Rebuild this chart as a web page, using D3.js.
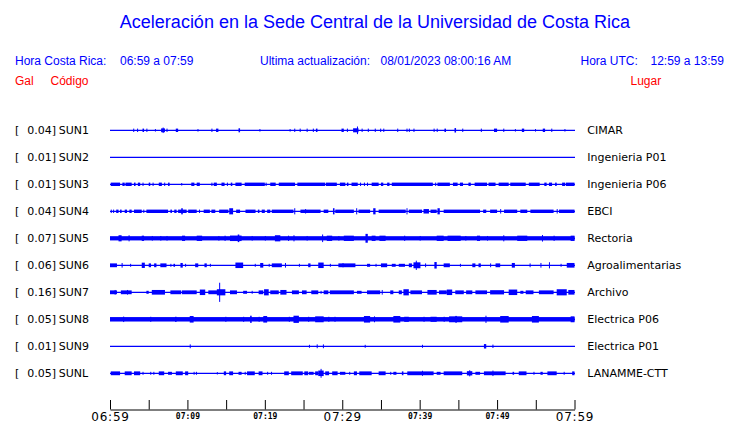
<!DOCTYPE html>
<html>
<head>
<meta charset="utf-8">
<script src="https://cdn.jsdelivr.net/npm/d3@7"></script>
<style>
  html, body { margin: 0; padding: 0; background: #fff; }
  svg { display: block; }
</style>
</head>
<body>
<svg id="chart" width="740" height="423"></svg>
<script>
// ---------------- DATA ----------------
const codes = ["SUN1","SUN2","SUN3","SUN4","SUN5","SUN6","SUN7","SUN8","SUN9","SUNL"];
const galMax = ["0.04","0.01","0.01","0.04","0.07","0.06","0.16","0.05","0.01","0.05"];
const places = ["CIMAR","Ingenieria P01","Ingenieria P06","EBCI","Rectoria","Agroalimentarias","Archivo","Electrica P06","Electrica P01","LANAMME-CTT"];
const tickMinutes = [0,5,10,15,20,25,30,35,40,45,50,55,60];
const labelMinutes = [0,10,20,30,40,50,60];
const bigLabelMinutes = [0,30,60];

// events per trace: [startMinute, endMinute, relative amplitude] (minutes after 06:59)
const sun1 = [[3.0,3.0,1],[3.5,3.5,1],[4.2,4.4,1],[4.7,4.7,1],[5.8,5.8,0.6],[6.6,7.1,1.2],[6.8,6.9,2],[7.3,7.3,1],[8.5,8.8,1],[11.3,11.3,0.6],[13.1,13.1,1],[13.7,14.0,1],[16.6,16.8,1.3],[19.3,19.3,0.6],[23.2,23.2,0.6],[23.8,23.8,1],[24.5,24.5,1],[25.4,25.4,1],[26.2,26.2,1],[26.6,26.8,1],[29.9,30.2,1],[30.6,30.6,1],[31.4,32.1,1.3],[31.9,32.0,3],[32.5,32.5,1],[33.3,33.3,1],[34.2,34.2,1],[34.9,34.9,1],[35.3,35.3,1],[37.1,37.1,1],[38.3,38.3,1],[38.6,38.6,1],[39.2,39.2,1],[41.8,41.8,1],[42.2,42.2,1],[43.2,43.4,1],[44.5,44.7,1.5],[45.5,45.5,1],[47.9,47.9,1],[49.6,50.0,1],[50.8,50.8,1],[52.3,52.3,0.6],[53.2,53.5,1],[54.9,54.9,0.6],[55.9,56.2,1],[57.0,57.0,1],[58.7,58.7,0.6]];
const sun2 = [];
const sun3 = [[0.1,1.3,1],[1.6,1.9,1],[2.0,2.8,1],[3.1,3.3,1],[3.6,3.9,1],[4.2,4.2,1],[5.0,5.2,1],[5.5,5.5,1],[6.3,6.7,1],[7.0,7.0,1],[7.5,7.7,1],[9.2,9.2,0.6],[10.5,10.9,1],[11.2,11.6,1],[13.1,13.1,1],[13.4,13.8,1],[14.4,14.8,1],[15.1,15.1,1],[15.6,15.8,1],[16.2,17.0,1],[17.4,20.0,1],[20.1,20.1,1],[20.7,21.4,1],[21.8,23.9,1],[24.2,27.8,1],[27.9,29.3,1],[29.7,30.4,1],[30.6,30.8,1],[31.2,32.0,1],[32.3,32.3,1],[32.8,32.8,1],[33.2,33.2,1],[33.8,34.7,1],[35.0,35.3,1],[35.8,36.1,1],[36.4,41.7,1],[42.0,42.0,1],[42.3,43.9,1],[44.3,44.9,1],[45.2,45.6,1],[46.3,46.6,1],[47.1,48.7,1],[48.9,49.8,1],[50.2,51.5,1],[51.7,53.7,1],[54.1,55.5,1],[56.1,56.4,1],[56.7,57.1,1],[57.5,57.7,1],[58.4,58.8,1],[58.9,60,1]];
const sun4 = [[0.1,0.1,1],[0.4,0.4,1],[0.8,1.1,1],[1.3,1.5,1],[1.9,2.2,1],[2.5,2.8,1],[3.1,4.1,1],[4.3,4.3,1],[4.7,7.5,1],[7.8,8.0,1],[8.3,8.6,1],[8.8,9.9,1],[9.2,9.4,2.3],[10.1,11.2,1],[11.5,11.5,1],[12.1,12.9,1],[13.1,13.6,1],[14.1,15.3,1],[15.4,15.9,2.3],[16.3,16.8,1],[17.5,18.8,1],[19.1,19.3,1],[19.6,20.0,1],[20.3,20.7,1],[20.9,23.7,1],[23.8,23.8,2.3],[24.6,27.2,1],[25.2,25.3,1.5],[27.6,28.2,1],[28.8,29.0,2.3],[29.1,31.5,1],[31.8,31.8,2.3],[32.1,33.6,1],[34.0,34.3,2.3],[34.7,38.2,1],[38.3,38.3,2.3],[38.6,40.3,1],[40.5,41.2,1.5],[41.4,42.2,1],[42.3,42.6,2.3],[43.1,47.8,1],[48.2,48.6,1],[49.1,50.0,1],[50.4,50.4,1.5],[50.9,52.6,1],[53.0,53.9,1],[54.3,57.3,1],[57.7,57.7,1.5],[58.0,60,1]];
const sun5 = [[0,60,1.4],[1.1,1.5,2.3],[2.4,2.5,2.3],[4.1,4.4,1.9],[5.4,5.4,1.6],[6.5,6.5,1.6],[7.3,7.3,1.6],[9.3,9.7,1.9],[11.2,11.9,1.9],[14.0,14.0,1.6],[14.8,14.8,1.9],[15.5,17.0,2.0],[16.5,16.7,3.0],[18.3,18.3,1.6],[20.0,20.0,1.6],[21.3,22.0,2.3],[23.0,23.0,1.9],[23.7,23.7,2.3],[25.4,25.4,1.6],[27.4,27.4,3.0],[28.0,28.7,1.9],[29.5,29.5,1.6],[30.2,31.5,1.9],[33.0,33.3,3.6],[33.8,34.3,1.9],[34.8,35.6,1.9],[38.0,38.0,1.9],[40.0,40.0,1.6],[42.2,43.1,1.9],[43.6,45.3,1.9],[45.9,45.9,1.6],[47.4,47.8,1.9],[48.7,48.7,1.6],[50.8,50.8,2.3],[52.6,53.9,1.9],[55.8,55.8,2.5],[57.3,57.3,1.9],[59.5,60,1.9]];
const sun6 = [[0,0.9,1.2],[1.5,1.5,1.6],[2.6,2.6,0.8],[4.1,4.5,1.9],[5.0,5.3,1.2],[5.7,6.0,1.2],[6.5,7.3,1.2],[7.8,7.8,0.8],[8.2,8.4,0.8],[9.1,9.4,1.6],[9.7,9.7,0.8],[11.0,11.4,1.2],[12.2,12.5,1.2],[12.9,12.9,0.8],[16.2,17.2,2.0],[18.7,18.7,0.8],[19.4,19.8,1.6],[20.5,20.5,0.8],[20.9,22.2,1.2],[22.6,22.6,1.6],[24.4,24.4,0.8],[25.6,25.9,1.2],[26.9,27.6,2.0],[28.4,28.4,0.8],[29.5,30.2,1.2],[30.0,31.7,1.2],[33.2,33.6,0.8],[34.3,34.3,0.8],[35.0,35.8,1.2],[36.4,36.9,0.8],[37.3,38.1,0.8],[38.6,39.0,1.2],[39.2,40.1,2.2],[39.5,39.6,3.8],[40.7,40.7,1.2],[41.9,42.2,2.5],[43.1,43.9,1.2],[45.2,45.2,0.8],[46.8,47.2,1.2],[47.6,47.9,1.2],[49.1,49.1,1.2],[49.8,50.4,1.2],[51.9,52.3,1.6],[54.2,54.2,1.2],[55.6,55.6,1.6],[56.7,56.7,2.3],[58.2,58.2,0.8],[59.0,60,1.6]];
const sun7 = [[0,0.9,1.2],[0.6,0.6,1.6],[1.4,2.8,1.2],[2.2,2.3,1.6],[4.7,5.0,0.8],[5.4,7.1,1.6],[7.8,9.2,1.2],[9.3,11.2,1.2],[11.6,12.3,2.0],[12.7,14.0,1.2],[13.8,14.9,2.3],[14.1,14.2,8.5],[15.5,16.4,1.2],[17.2,17.7,0.8],[18.3,18.3,0.8],[19.2,19.8,1.2],[19.9,20.5,2.3],[20.7,21.8,1.2],[22.0,22.8,1.6],[23.5,24.4,1.2],[24.8,25.4,1.2],[26.0,26.9,1.2],[27.2,27.2,0.8],[27.6,28.2,1.2],[28.4,31.5,1.2],[31.9,32.5,0.8],[33.2,34.9,1.2],[35.1,35.1,1.6],[36.2,36.6,1.2],[37.3,37.7,1.2],[37.9,38.6,2.3],[38.8,40.3,1.2],[41.0,42.2,1.6],[42.5,43.5,1.2],[43.5,44.2,2.0],[44.6,45.7,1.2],[46.0,46.8,1.2],[47.2,48.7,1.2],[49.1,50.9,1.4],[51.5,52.6,2.0],[53.0,53.4,0.8],[53.7,54.7,1.2],[55.4,57.3,1.2],[57.7,59.0,2.3],[59.2,60,1.6]];
const sun8 = [[0,60,1.5],[1.7,1.7,2.0],[5.2,5.2,1.8],[8.4,8.6,1.8],[10.3,10.8,2.5],[14.9,14.9,1.8],[17.2,17.2,1.8],[18.1,18.3,2.8],[19.2,19.2,1.8],[19.8,20.3,2.5],[23.1,23.1,1.8],[23.7,24.4,2.8],[25.6,25.6,1.8],[26.5,27.6,2.2],[28.2,28.2,1.8],[29.0,29.0,1.8],[32.8,33.6,2.5],[34.1,34.1,2.2],[36.6,37.5,2.5],[38.0,38.6,1.8],[40.5,40.5,1.8],[41.4,42.2,1.8],[43.1,43.1,1.8],[43.8,45.5,2.2],[44.6,44.8,2.6],[48.5,48.5,2.8],[50.4,51.5,2.5],[54.5,55.4,2.5],[59.5,60,2.2]];
const sun9 = [[10.3,10.3,1.2],[25.7,25.7,0.8],[26.7,26.8,1.2],[27.5,27.6,1.2],[32.9,32.9,0.8],[40.3,40.3,0.8],[48.3,48.6,1.5],[49.4,49.4,1.0]];
const sunl = [[0.1,1.3,1.2],[1.9,2.8,1.2],[3.1,3.9,1.2],[4.2,4.2,0.8],[5.2,5.2,0.8],[5.6,5.6,0.8],[6.3,7.0,1.2],[7.5,8.0,0.8],[8.5,9.4,1.2],[9.7,10.1,1.2],[10.8,10.8,0.8],[11.1,11.1,0.8],[13.8,13.8,0.5],[14.7,15.0,1.2],[15.4,15.9,1.2],[16.6,17.0,0.8],[17.4,17.4,0.8],[17.7,18.7,1.2],[19.2,19.7,1.2],[20.3,20.3,0.8],[20.8,20.8,0.8],[22.5,23.1,1.2],[23.4,24.9,1.2],[25.1,25.6,1.2],[25.7,26.3,0.8],[26.5,26.9,1.2],[26.9,27.6,2.0],[27.2,27.3,3.6],[27.8,28.3,1.2],[28.7,29.4,1.2],[29.7,30.4,0.8],[30.9,30.9,0.8],[31.5,31.9,1.2],[32.2,33.8,1.2],[34.7,35.6,1.2],[36.2,36.2,0.8],[36.6,37.0,0.8],[37.7,37.9,1.2],[38.4,41.8,1.2],[40.3,40.3,1.8],[42.2,42.7,0.8],[43.1,45.5,1.2],[46.1,46.8,1.4],[46.4,46.4,2.3],[47.2,47.8,0.8],[48.3,51.1,1.2],[49.4,49.4,2.0],[52.0,52.2,0.8],[52.8,53.8,1.2],[54.7,54.7,0.8],[55.6,55.9,0.8],[56.5,57.7,1.2],[58.6,58.6,0.8],[59.7,60,1.2]];
const traces = [sun1, sun2, sun3, sun4, sun5, sun6, sun7, sun8, sun9, sunl];

// ---------------- DRAWING ----------------
const svg = d3.select("#chart");
const BLUE = "#0000ff", RED = "#ff0000";
const t0 = new Date(2023, 7, 1, 6, 59, 0);
const t1 = new Date(2023, 7, 1, 7, 59, 0);
const atMin = m => new Date(t0.getTime() + m * 60000);

const x = d3.scaleTime().domain([t0, t1]).range([110, 574.5]);
const y = d3.scaleBand().domain(codes).range([116.8, 386.8]);
const amp = d3.scaleLinear().domain([0, 1]).range([0, 1.05]);

const sans = "'Liberation Sans', Arial, Helvetica, sans-serif";
const dv = "'DejaVu Sans', Verdana, sans-serif";

// title + header
svg.append("text").attr("x", 375).attr("y", 28.3).attr("text-anchor", "middle")
  .attr("font-family", sans).attr("font-size", 18).attr("fill", BLUE)
  .text("Aceleración en la Sede Central de la Universidad de Costa Rica");

const header = [
  ["Hora Costa Rica:", 15, 65, BLUE],
  ["06:59 a 07:59", 120, 65, BLUE],
  ["Ultima actualización:", 260, 65, BLUE],
  ["08/01/2023 08:00:16 AM", 380.5, 65, BLUE],
  ["Hora UTC:", 580.5, 65, BLUE],
  ["12:59 a 13:59", 650.5, 65, BLUE],
  ["Gal", 15, 84.5, RED],
  ["Código", 50.5, 84.5, RED],
  ["Lugar", 630.5, 84.5, RED]
];
svg.selectAll("text.hdr").data(header).enter().append("text").attr("class", "hdr")
  .attr("x", d => d[1]).attr("y", d => d[2]).attr("fill", d => d[3])
  .attr("font-family", sans).attr("font-size", 12).text(d => d[0]);

// rows
const rows = svg.selectAll("g.row").data(codes).enter().append("g").attr("class", "row")
  .attr("transform", d => `translate(0,${y(d) + y.bandwidth() / 2})`);

rows.append("text").attr("x", 15).attr("y", 4).attr("font-family", dv).attr("font-size", 11)
  .attr("fill", "#000").text("[");
rows.append("text").attr("x", 27.3).attr("y", 4).attr("font-family", dv).attr("font-size", 11)
  .attr("fill", "#000").text((d, i) => galMax[i] + "]");
rows.append("text").attr("x", 58.8).attr("y", 4).attr("font-family", dv).attr("font-size", 11)
  .attr("fill", "#000").text(d => d);
rows.append("text").attr("x", 587.3).attr("y", 4).attr("font-family", dv).attr("font-size", 11)
  .attr("fill", "#000").text((d, i) => places[i]);

rows.append("line").attr("x1", x(t0)).attr("x2", x(t1) + 0.5).attr("y1", 0).attr("y2", 0)
  .attr("stroke", BLUE).attr("stroke-width", 1.3);

rows.each(function (d, i) {
  d3.select(this).selectAll("rect").data(traces[i]).enter().append("rect")
    .attr("x", e => x(atMin(e[0])))
    .attr("width", e => Math.max(1, x(atMin(e[1])) - x(atMin(e[0]))))
    .attr("y", e => -amp(e[2]) - 0.65)
    .attr("height", e => 2 * amp(e[2]) + 1.3)
    .attr("fill", BLUE);
});

// axis
const axis = d3.axisBottom(x)
  .tickValues(tickMinutes.map(atMin))
  .tickSizeInner(-9.5).tickSizeOuter(0).tickPadding(0)
  .tickFormat(d => {
    const m = Math.round((d - t0) / 60000);
    return labelMinutes.includes(m) ? d3.timeFormat("%H:%M")(d) : "";
  });
const ax = svg.append("g").attr("transform", "translate(0,409.5)").call(axis);
ax.select(".domain").attr("stroke", "#000").attr("stroke-width", 1);
ax.selectAll(".tick line").attr("stroke", "#000");
ax.selectAll(".tick text").each(function (d) {
  const m = Math.round((d - t0) / 60000);
  const big = bigLabelMinutes.includes(m);
  d3.select(this).attr("fill", "#000").attr("dy", null)
    .attr("y", big ? 11.5 : 9.5)
    .attr("font-family", big ? dv : "'DejaVu Sans Mono', monospace")
    .attr("font-size", big ? 12 : 8)
    .attr("font-weight", big ? "normal" : "bold")
    .attr("letter-spacing", big ? 0.8 : 0);
});
</script>
</body>
</html>
